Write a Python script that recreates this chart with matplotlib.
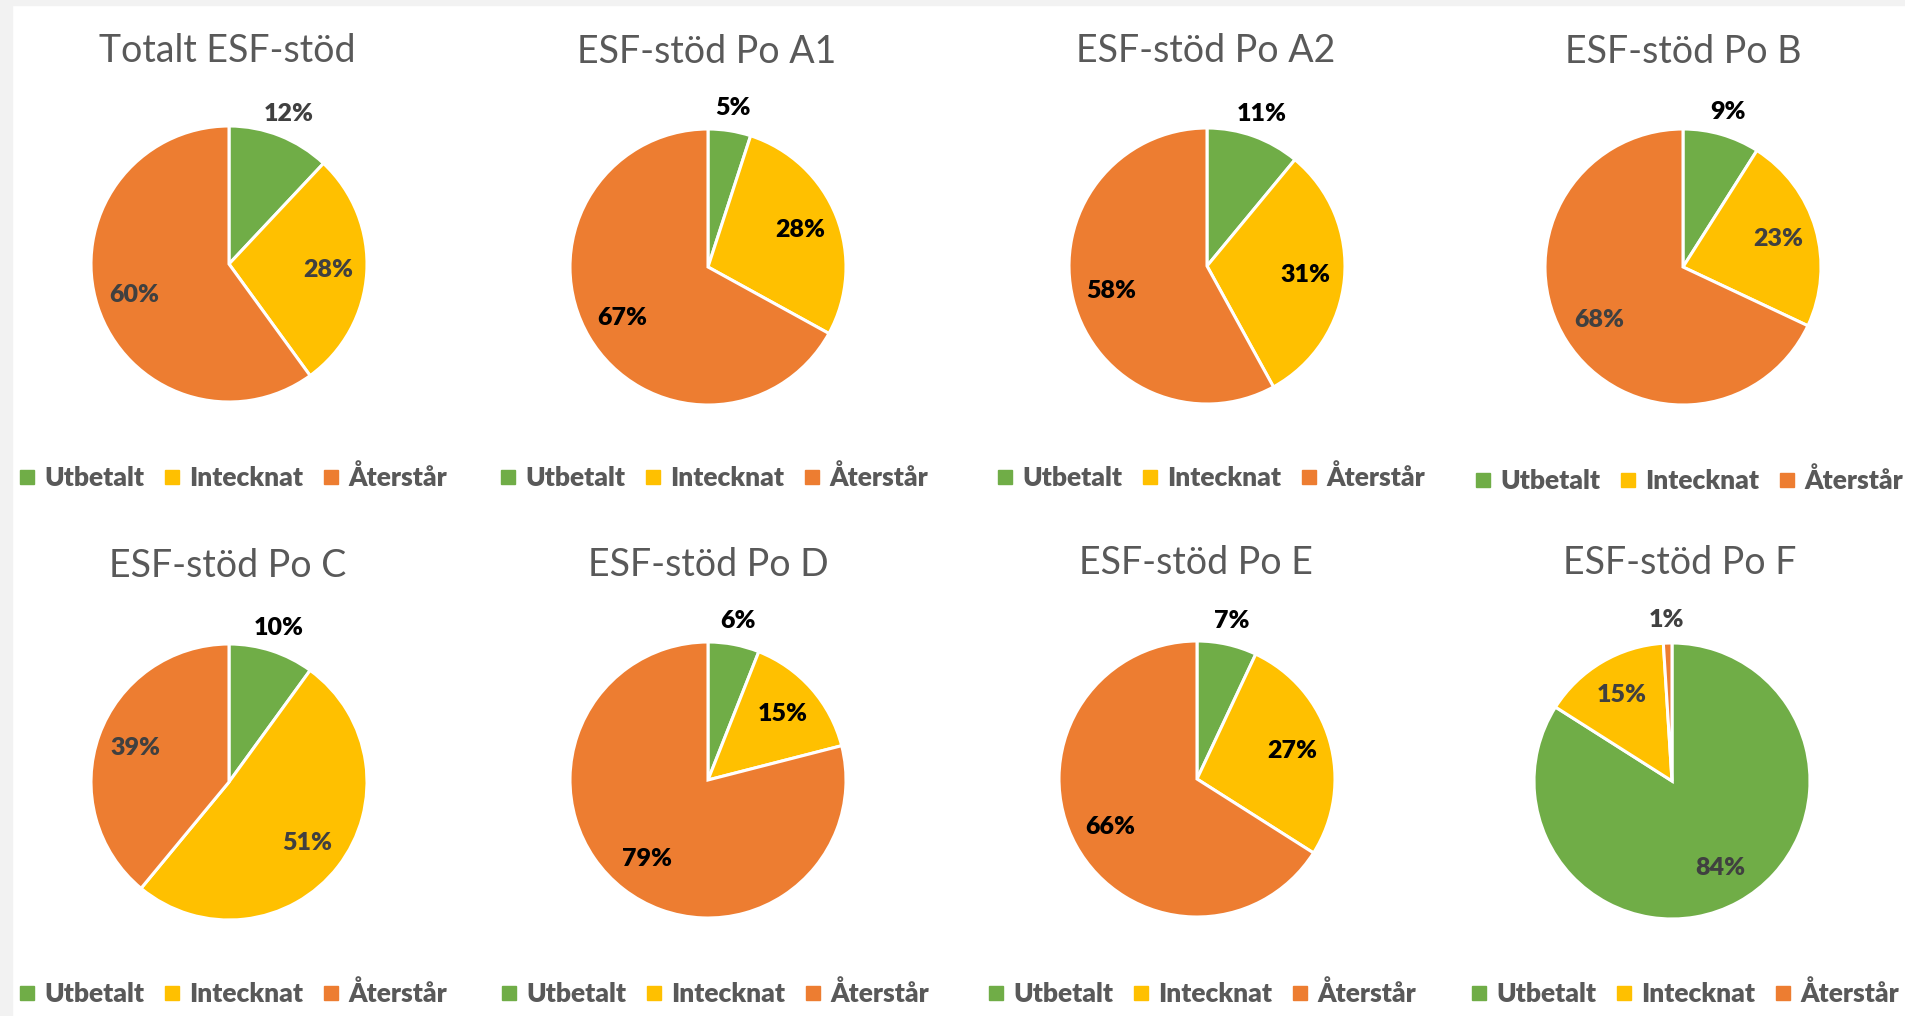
import matplotlib
matplotlib.use("Agg")
import matplotlib.pyplot as plt
import numpy as np
from matplotlib.lines import Line2D
from matplotlib.patches import Rectangle

plt.rcParams["font.family"] = ["Lato", "DejaVu Sans"]

# ── data ──────────────────────────────────────────────
categories = ["Utbetalt", "Intecknat", "Återstår"]
titles = ["Totalt ESF-stöd", "ESF-stöd Po A1", "ESF-stöd Po A2", "ESF-stöd Po B",
          "ESF-stöd Po C", "ESF-stöd Po D", "ESF-stöd Po E", "ESF-stöd Po F"]
totalt = [12, 28, 60]
po_a1 = [5, 28, 67]
po_a2 = [11, 31, 58]
po_b = [9, 23, 68]
po_c = [10, 51, 39]
po_d = [6, 15, 79]
po_e = [7, 27, 66]
po_f = [84, 15, 1]
series = [totalt, po_a1, po_a2, po_b, po_c, po_d, po_e, po_f]

colors = ["#70AD47", "#FFC000", "#ED7D31"]
GRAY = "#404040"
label_colors = [
    [GRAY, GRAY, GRAY], ["black"] * 3, ["black"] * 3, ["black", GRAY, GRAY],
    ["black", GRAY, GRAY], ["black"] * 3, ["black"] * 3, [GRAY, GRAY, GRAY],
]

# layout in pixels (figure 1906 x 1016)
W, H = 1906, 1016
R = 138
centers = [(229, 264), (708, 267), (1207, 266), (1683, 267),
           (229, 782), (708, 780), (1197, 779), (1672, 781)]
title_pos = [(227, 62), (707, 63), (1206, 62), (1683, 63),
             (228, 577), (708, 576), (1196, 574), (1680, 574)]
legend_pos = [(18, 477), (499, 477), (996, 477), (1474, 480),
              (18, 993), (500, 993), (987, 993), (1470, 993)]

fig = plt.figure(figsize=(W / 100, H / 100), dpi=100)
fig.patch.set_facecolor("white")
# light grey screenshot border
fig.patches.append(Rectangle((0, 1 - 5 / H), 1, 5 / H, transform=fig.transFigure,
                             color="#F2F2F2", zorder=0))
fig.patches.append(Rectangle((0, 0), 12 / W, 1, transform=fig.transFigure,
                             color="#F2F2F2", zorder=0))

handles = [Line2D([], [], marker="s", linestyle="", markersize=9.5,
                  markerfacecolor=c, markeredgecolor=c) for c in colors]

for i, vals in enumerate(series):
    cx, cy = centers[i]
    ax = fig.add_axes([(cx - R) / W, 1 - (cy + R) / H, 2 * R / W, 2 * R / H])
    wedges, _ = ax.pie(vals, colors=colors, startangle=90, counterclock=False,
                       radius=1, wedgeprops=dict(edgecolor="white", linewidth=2.2))
    ax.set_xlim(-1, 1)
    ax.set_ylim(-1, 1)
    ax.set_aspect("equal")
    ax.axis("off")

    # percentage labels: small slices outside, the rest inside
    for j, w in enumerate(wedges):
        ang = np.deg2rad((w.theta1 + w.theta2) / 2)
        d = 1.17 if vals[j] < 13 else 0.72
        ax.text(d * np.cos(ang), d * np.sin(ang), f"{vals[j]}%",
                ha="center", va="center", fontsize=18, fontweight="heavy",
                color=label_colors[i][j])

    tx, ty = title_pos[i]
    fig.text(tx / W, 1 - ty / H, titles[i], ha="center", va="baseline",
             fontsize=27, color="#595959")

    lx, ly = legend_pos[i]
    fig.legend(handles, categories, loc="center left",
               bbox_to_anchor=(lx / W, 1 - ly / H), bbox_transform=fig.transFigure,
               ncol=3, frameon=False, handlelength=0.7, handletextpad=0.3,
               columnspacing=0.7, borderpad=0, borderaxespad=0,
               prop=dict(weight="heavy", size=19), labelcolor="#595959")

fig.savefig("out.png", dpi=100, facecolor="white")
